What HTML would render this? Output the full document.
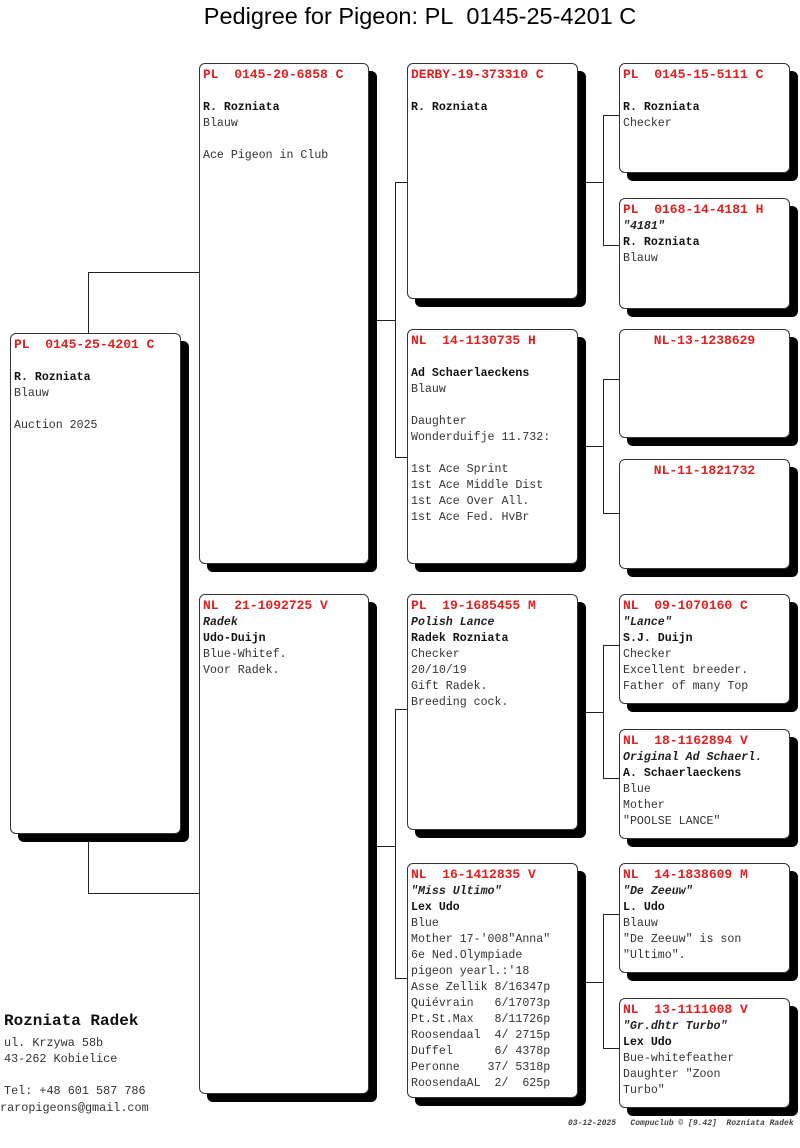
<!DOCTYPE html>
<html><head><meta charset="utf-8"><style>
body{margin:0;width:800px;height:1148px;background:#fff;position:relative;overflow:hidden;font-family:"Liberation Mono",monospace;}
.t{position:absolute;top:3px;left:0;width:840px;text-align:center;font:23.5px "Liberation Sans",sans-serif;color:#000}
.b{position:absolute;border:1px solid #333;border-radius:6px;background:#fff;box-shadow:8px 8px 0 #000;box-sizing:border-box;padding:3px 0 0 3px;font-size:11.6px;line-height:16px;color:#333;white-space:pre}
.r{color:#e02020;font-weight:bold;font-size:13px}
.c{text-align:center;display:block;padding-right:3px}
.n{font-weight:bold;color:#111}
.i{font-style:italic;font-weight:bold;color:#222}
.h{position:absolute;height:1px;background:#222}
.v{position:absolute;width:1px;background:#222}
.f{position:absolute;font-size:11.8px;color:#333;line-height:16px;white-space:pre}
</style></head><body>
<div class="t">Pedigree for Pigeon: PL&nbsp; 0145-25-4201 C</div>

<!-- connectors -->
<div class="v" style="left:88px;top:272px;height:61px"></div>
<div class="h" style="left:88px;top:272px;width:112px"></div>
<div class="v" style="left:88px;top:840px;height:53px"></div>
<div class="h" style="left:88px;top:893px;width:112px"></div>

<div class="h" style="left:376px;top:320px;width:19px"></div>
<div class="v" style="left:395px;top:182px;height:275px"></div>
<div class="h" style="left:395px;top:182px;width:13px"></div>
<div class="h" style="left:395px;top:457px;width:13px"></div>

<div class="h" style="left:376px;top:846px;width:19px"></div>
<div class="v" style="left:395px;top:709px;height:269px"></div>
<div class="h" style="left:395px;top:709px;width:13px"></div>
<div class="h" style="left:395px;top:978px;width:13px"></div>

<div class="h" style="left:585px;top:182px;width:18px"></div>
<div class="v" style="left:603px;top:115px;height:130px"></div>
<div class="h" style="left:603px;top:115px;width:17px"></div>
<div class="h" style="left:603px;top:245px;width:17px"></div>

<div class="h" style="left:585px;top:446px;width:18px"></div>
<div class="v" style="left:603px;top:379px;height:134px"></div>
<div class="h" style="left:603px;top:379px;width:17px"></div>
<div class="h" style="left:603px;top:513px;width:17px"></div>

<div class="h" style="left:585px;top:712px;width:18px"></div>
<div class="v" style="left:603px;top:645px;height:133px"></div>
<div class="h" style="left:603px;top:645px;width:17px"></div>
<div class="h" style="left:603px;top:778px;width:17px"></div>

<div class="h" style="left:585px;top:982px;width:18px"></div>
<div class="v" style="left:603px;top:914px;height:134px"></div>
<div class="h" style="left:603px;top:914px;width:17px"></div>
<div class="h" style="left:603px;top:1048px;width:17px"></div>

<!-- gen1 -->
<div class="b" style="left:10px;top:333px;width:171px;height:501px"><span class="r">PL  0145-25-4201 C</span>

<span class="n">R. Rozniata</span>
Blauw

Auction 2025</div>

<!-- gen2 -->
<div class="b" style="left:199px;top:63px;width:170px;height:501px"><span class="r">PL  0145-20-6858 C</span>

<span class="n">R. Rozniata</span>
Blauw

Ace Pigeon in Club</div>
<div class="b" style="left:199px;top:594px;width:170px;height:500px"><span class="r">NL  21-1092725 V</span>
<span class="i">Radek</span>
<span class="n">Udo-Duijn</span>
Blue-Whitef.
Voor Radek.</div>

<!-- gen3 -->
<div class="b" style="left:407px;top:63px;width:171px;height:236px"><span class="r">DERBY-19-373310 C</span>

<span class="n">R. Rozniata</span></div>
<div class="b" style="left:407px;top:329px;width:171px;height:235px"><span class="r">NL  14-1130735 H</span>

<span class="n">Ad Schaerlaeckens</span>
Blauw

Daughter
Wonderduifje 11.732:

1st Ace Sprint
1st Ace Middle Dist
1st Ace Over All.
1st Ace Fed. HvBr</div>
<div class="b" style="left:407px;top:594px;width:171px;height:236px"><span class="r">PL  19-1685455 M</span>
<span class="i">Polish Lance</span>
<span class="n">Radek Rozniata</span>
Checker
20/10/19
Gift Radek.
Breeding cock.</div>
<div class="b" style="left:407px;top:863px;width:171px;height:235px"><span class="r">NL  16-1412835 V</span>
<span class="i">"Miss Ultimo"</span>
<span class="n">Lex Udo</span>
Blue
Mother 17-'008"Anna"
6e Ned.Olympiade
pigeon yearl.:'18
Asse Zellik 8/16347p
Quiévrain   6/17073p
Pt.St.Max   8/11726p
Roosendaal  4/ 2715p
Duffel      6/ 4378p
Peronne    37/ 5318p
RoosendaAL  2/  625p</div>

<!-- gen4 -->
<div class="b" style="left:619px;top:63px;width:171px;height:110px"><span class="r">PL  0145-15-5111 C</span>

<span class="n">R. Rozniata</span>
Checker</div>
<div class="b" style="left:619px;top:198px;width:171px;height:111px"><span class="r">PL  0168-14-4181 H</span>
<span class="i">"4181"</span>
<span class="n">R. Rozniata</span>
Blauw</div>
<div class="b" style="left:619px;top:329px;width:171px;height:109px"><span class="r c">NL-13-1238629</span></div>
<div class="b" style="left:619px;top:459px;width:171px;height:110px"><span class="r c">NL-11-1821732</span></div>
<div class="b" style="left:619px;top:594px;width:171px;height:110px"><span class="r">NL  09-1070160 C</span>
<span class="i">"Lance"</span>
<span class="n">S.J. Duijn</span>
Checker
Excellent breeder.
Father of many Top</div>
<div class="b" style="left:619px;top:729px;width:171px;height:110px"><span class="r">NL  18-1162894 V</span>
<span class="i">Original Ad Schaerl.</span>
<span class="n">A. Schaerlaeckens</span>
Blue
Mother
"POOLSE LANCE"</div>
<div class="b" style="left:619px;top:863px;width:171px;height:110px"><span class="r">NL  14-1838609 M</span>
<span class="i">"De Zeeuw"</span>
<span class="n">L. Udo</span>
Blauw
"De Zeeuw" is son
"Ultimo".</div>
<div class="b" style="left:619px;top:998px;width:171px;height:110px"><span class="r">NL  13-1111008 V</span>
<span class="i">"Gr.dhtr Turbo"</span>
<span class="n">Lex Udo</span>
Bue-whitefeather
Daughter "Zoon
Turbo"</div>

<!-- footer -->
<div class="f" style="left:4px;top:1013px;font-size:16px;font-weight:bold;color:#111">Rozniata Radek</div>
<div class="f" style="left:4px;top:1035px">ul. Krzywa 58b
43-262 Kobielice

Tel: +48 601 587 786</div>
<div class="f" style="left:0px;top:1100px">raropigeons@gmail.com</div>
<div class="f" style="left:568px;top:1116px;font-size:8px;font-style:italic;font-weight:bold;color:#444">03-12-2025   Compuclub © [9.42]  Rozniata Radek</div>
</body></html>
